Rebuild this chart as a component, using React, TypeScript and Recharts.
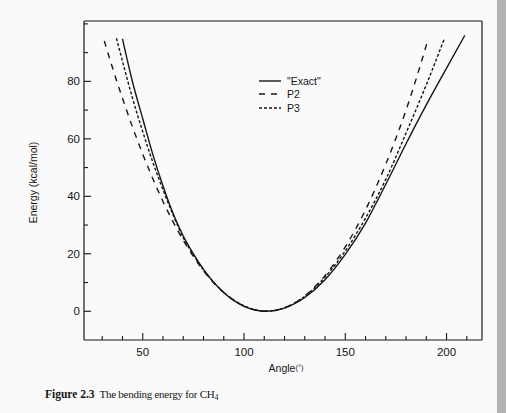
import React from "react";
import { LineChart, Line, XAxis, YAxis, Legend } from "recharts";

// bending angle (deg) and energy (kcal/mol)
const exactAngle = [40, 45, 50, 55, 60, 65, 70, 75, 80, 90, 100, 111, 120, 130, 140, 150, 160, 170, 180, 190, 200, 209];
const exactEnergy = [94.8, 79.7, 67.0, 54.5, 43.6, 34.0, 26.2, 20.0, 14.6, 6.5, 1.7, 0, 1.1, 4.8, 11.0, 19.8, 30.7, 44.2, 58.3, 71.8, 84.6, 96.0];

const p2Angle = [31, 35, 40, 45, 50, 55, 60, 65, 70, 75, 80, 90, 100, 111, 120, 130, 140, 150, 160, 170, 180, 191];
const p2Energy = [94.1, 84.9, 74.1, 64.0, 54.7, 46.1, 38.2, 31.1, 24.7, 19.1, 14.1, 6.5, 1.8, 0, 1.2, 5.3, 12.4, 22.4, 35.3, 51.2, 70.0, 94.9];

const p3Angle = [37, 40, 45, 50, 55, 60, 65, 70, 75, 80, 90, 100, 111, 120, 130, 140, 150, 160, 170, 180, 190, 199];
const p3Energy = [95.0, 87.0, 74.0, 62.5, 51.8, 42.3, 33.5, 25.6, 19.6, 14.4, 6.6, 1.9, 0, 1.2, 5.2, 11.9, 21.0, 32.4, 45.9, 62.0, 78.8, 95.0];

const angleTicks = [30, 40, 50, 60, 70, 80, 90, 100, 110, 120, 130, 140, 150, 160, 170, 180, 190, 200, 210];
const angleLabels = [50, 100, 150, 200];
const energyTicks = [0, 10, 20, 30, 40, 50, 60, 70, 80, 90, 100];
const energyLabels = [0, 20, 40, 60, 80];

const seriesNames = ['"Exact"', "P2", "P3"];
const seriesDash = ["", "6 6", "3 2"];

const zip = (xs: number[], ys: number[]) => xs.map((angle, i) => ({ angle, energy: ys[i] }));
const curves = [zip(exactAngle, exactEnergy), zip(p2Angle, p2Energy), zip(p3Angle, p3Energy)];

const SANS = "'Liberation Sans', Arial, Helvetica, sans-serif";
const SERIF = "'Liberation Serif', 'Times New Roman', serif";
const INK = "#161616";
const X_DOMAIN: [number, number] = [21, 217.5];
const Y_DOMAIN: [number, number] = [-10, 101];

// ticks point into the frame; only the major ones carry a number
function BottomTick({ x, y, payload }: any) {
  const major = angleLabels.includes(payload.value);
  return (
    <g>
      <line x1={x} y1={y} x2={x} y2={y - (major ? 7 : 4)} stroke={INK} strokeWidth={1.1} />
      {major && (
        <text x={x} y={y + 16} textAnchor="middle" fontSize={11.5} fontFamily={SANS} fill={INK}>
          {payload.value}
        </text>
      )}
    </g>
  );
}

function TopTick({ x, y, payload }: any) {
  const major = angleLabels.includes(payload.value);
  return <line x1={x} y1={y} x2={x} y2={y + (major ? 7 : 4)} stroke={INK} strokeWidth={1.1} />;
}

function LeftTick({ x, y, payload }: any) {
  const major = energyLabels.includes(payload.value);
  return (
    <g>
      <line x1={x} y1={y} x2={x + (major ? 7 : 4)} y2={y} stroke={INK} strokeWidth={1.1} />
      {major && (
        <text x={x - 4} y={y + 4} textAnchor="end" fontSize={11.5} fontFamily={SANS} fill={INK}>
          {payload.value}
        </text>
      )}
    </g>
  );
}

function RightTick({ x, y, payload }: any) {
  const major = energyLabels.includes(payload.value);
  return <line x1={x} y1={y} x2={x - (major ? 7 : 4)} y2={y} stroke={INK} strokeWidth={1.1} />;
}

function LegendBox() {
  return (
    <div style={{ fontFamily: SANS, fontSize: 10.5, color: INK }}>
      {seriesNames.map((name, i) => (
        <div key={name} style={{ display: "flex", alignItems: "center", height: 13.5 }}>
          <svg width={26} height={8} style={{ marginRight: 4 }}>
            <line x1={2} y1={4} x2={24} y2={4} stroke={INK} strokeWidth={1.4} strokeDasharray={seriesDash[i]} />
          </svg>
          <span>{name}</span>
        </div>
      ))}
    </div>
  );
}

export default function App() {
  const axisLine = { stroke: INK, strokeWidth: 1.2 };
  return (
    <div style={{ position: "absolute", left: 0, top: 0, width: 506, height: 413, background: "#fafafa", overflow: "hidden" }}>
      <LineChart width={506} height={413} margin={{ top: 11, right: 14, bottom: 43, left: 44 }}>
        <XAxis
          xAxisId="bottom"
          type="number"
          dataKey="angle"
          domain={X_DOMAIN}
          ticks={angleTicks}
          interval={0}
          height={30}
          tickSize={0}
          tickMargin={0}
          tickLine={false}
          axisLine={axisLine}
          tick={BottomTick}
          label={{
            content: ({ viewBox }: any) => (
              <text x={viewBox.x + viewBox.width / 2 + 3} y={viewBox.y + 32} textAnchor="middle" fontFamily={SANS} fill={INK}>
                <tspan fontSize={10.5}>Angle</tspan>
                <tspan fontSize={7.5} dy={-2}>(°)</tspan>
              </text>
            ),
          }}
        />
        <XAxis
          xAxisId="top"
          orientation="top"
          type="number"
          dataKey="angle"
          domain={X_DOMAIN}
          ticks={angleTicks}
          interval={0}
          height={10}
          tickSize={0}
          tickMargin={0}
          tickLine={false}
          axisLine={axisLine}
          tick={TopTick}
        />
        <YAxis
          yAxisId="left"
          type="number"
          domain={Y_DOMAIN}
          ticks={energyTicks}
          interval={0}
          width={40}
          tickSize={0}
          tickMargin={0}
          tickLine={false}
          axisLine={axisLine}
          tick={LeftTick}
          label={{
            content: ({ viewBox }: any) => {
              const cx = viewBox.x - 7;
              const cy = viewBox.y + viewBox.height / 2 + 2;
              return (
                <text x={cx} y={cy} transform={`rotate(-90 ${cx} ${cy})`} textAnchor="middle" fontSize={10.5} fontFamily={SANS} fill={INK}>
                  Energy (kcal/mol)
                </text>
              );
            },
          }}
        />
        <YAxis
          yAxisId="right"
          orientation="right"
          type="number"
          domain={Y_DOMAIN}
          ticks={energyTicks}
          interval={0}
          width={10}
          tickSize={0}
          tickMargin={0}
          tickLine={false}
          axisLine={axisLine}
          tick={RightTick}
        />
        <Legend
          layout="vertical"
          align="center"
          verticalAlign="middle"
          content={() => <LegendBox />}
          wrapperStyle={{ left: 257, top: 74, width: 90 }}
        />
        {curves.map((pts, i) => (
          <Line
            key={seriesNames[i]}
            xAxisId="bottom"
            yAxisId="left"
            data={pts}
            dataKey="energy"
            name={seriesNames[i]}
            type="monotone"
            stroke={INK}
            strokeWidth={1.4}
            strokeDasharray={seriesDash[i] || undefined}
            dot={false}
            activeDot={false}
            isAnimationActive={false}
          />
        ))}
      </LineChart>
      <div style={{ position: "absolute", right: 0, top: 0, width: 9, height: 413, background: "#b3b3b3" }} />
      <div style={{ position: "absolute", left: 45, top: 387, fontFamily: SERIF, fontSize: 11, color: INK, whiteSpace: "pre", lineHeight: "14px" }}>
        <b style={{ fontSize: 11.5 }}>Figure 2.3</b>
        <span style={{ letterSpacing: -0.25 }}>{"  The bending energy for CH"}</span>
        <sub style={{ fontSize: 8, verticalAlign: -2 }}>4</sub>
      </div>
    </div>
  );
}
